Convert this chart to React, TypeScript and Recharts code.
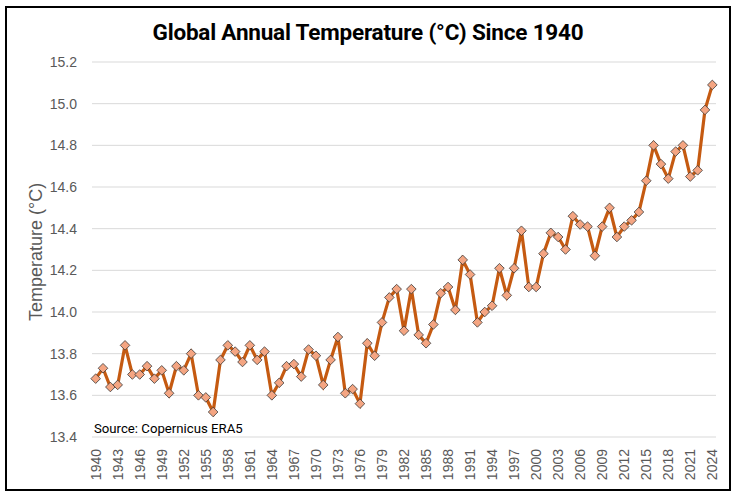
import { CartesianGrid, Label, Line, LineChart, XAxis, YAxis } from "recharts";

const years = [
  1940, 1941, 1942, 1943, 1944, 1945, 1946, 1947, 1948, 1949,
  1950, 1951, 1952, 1953, 1954, 1955, 1956, 1957, 1958, 1959,
  1960, 1961, 1962, 1963, 1964, 1965, 1966, 1967, 1968, 1969,
  1970, 1971, 1972, 1973, 1974, 1975, 1976, 1977, 1978, 1979,
  1980, 1981, 1982, 1983, 1984, 1985, 1986, 1987, 1988, 1989,
  1990, 1991, 1992, 1993, 1994, 1995, 1996, 1997, 1998, 1999,
  2000, 2001, 2002, 2003, 2004, 2005, 2006, 2007, 2008, 2009,
  2010, 2011, 2012, 2013, 2014, 2015, 2016, 2017, 2018, 2019,
  2020, 2021, 2022, 2023, 2024,
];

const temps = [
  13.68, 13.73, 13.64, 13.65, 13.84, 13.70, 13.70, 13.74, 13.68, 13.72,
  13.61, 13.74, 13.72, 13.80, 13.60, 13.59, 13.52, 13.77, 13.84, 13.81,
  13.76, 13.84, 13.77, 13.81, 13.60, 13.66, 13.74, 13.75, 13.69, 13.82,
  13.79, 13.65, 13.77, 13.88, 13.61, 13.63, 13.56, 13.85, 13.79, 13.95,
  14.07, 14.11, 13.91, 14.11, 13.89, 13.85, 13.94, 14.09, 14.12, 14.01,
  14.25, 14.18, 13.95, 14.00, 14.03, 14.21, 14.08, 14.21, 14.39, 14.12,
  14.12, 14.28, 14.38, 14.36, 14.30, 14.46, 14.42, 14.41, 14.27, 14.41,
  14.50, 14.36, 14.41, 14.44, 14.48, 14.63, 14.80, 14.71, 14.64, 14.77,
  14.80, 14.65, 14.68, 14.97, 15.09,
];

const xTicks = [
  1940, 1943, 1946, 1949, 1952, 1955, 1958, 1961, 1964, 1967,
  1970, 1973, 1976, 1979, 1982, 1985, 1988, 1991, 1994, 1997,
  2000, 2003, 2006, 2009, 2012, 2015, 2018, 2021, 2024,
];

const yTicks = [13.4, 13.6, 13.8, 14.0, 14.2, 14.4, 14.6, 14.8, 15.0, 15.2];

const data = years.map((year, i) => ({ year, temp: temps[i] }));

const axisFont = "'Liberation Sans', Arial, sans-serif";
const labelGray = "#595959";

function Diamond(props: any) {
  const { cx, cy } = props;
  if (cx == null || cy == null) return null;
  const r = 4.8;
  return (
    <polygon
      points={`${cx},${cy - r} ${cx + r},${cy} ${cx},${cy + r} ${cx - r},${cy}`}
      fill="#F4A582"
      stroke="#3a3a3a"
      strokeWidth={0.8}
    />
  );
}

function YearTick(props: any) {
  const { x, y, payload } = props;
  return (
    <text
      transform={`translate(${x},${y}) rotate(-90)`}
      textAnchor="end"
      dominantBaseline="central"
      fill={labelGray}
      fontSize={14}
      fontFamily={axisFont}
    >
      {payload.value}
    </text>
  );
}

export default function App() {
  return (
    <div
      style={{
        position: "fixed",
        left: 0,
        top: 0,
        width: 736,
        height: 496,
        background: "#fff",
      }}
    >
      <div style={{ position: "absolute", left: 0, top: 0 }}>
        <LineChart
          width={736}
          height={496}
          data={data}
          margin={{ top: 62, right: 20, bottom: 0, left: 0 }}
        >
          <CartesianGrid vertical={false} stroke="#d9d9d9" />
          <XAxis
            type="number"
            dataKey="year"
            domain={[1939.5, 2024.5]}
            ticks={xTicks}
            interval={0}
            axisLine={false}
            tickLine={false}
            tickSize={0}
            tickMargin={12}
            height={59}
            tick={<YearTick />}
          />
          <YAxis
            type="number"
            domain={[13.4, 15.2]}
            ticks={yTicks}
            interval={0}
            width={92}
            axisLine={false}
            tickLine={false}
            tickSize={0}
            tickMargin={15}
            tickFormatter={(v: number) => v.toFixed(1)}
            tick={{ fill: labelGray, fontSize: 14, fontFamily: axisFont }}
          >
            <Label
              content={() => (
                <text
                  transform="translate(36,252) rotate(-90)"
                  textAnchor="middle"
                  dominantBaseline="central"
                  fill={labelGray}
                  fontSize={18}
                  fontFamily={axisFont}
                >
                  Temperature (°C)
                </text>
              )}
            />
          </YAxis>
          <Line
            type="linear"
            dataKey="temp"
            stroke="#C55A11"
            strokeWidth={3.2}
            dot={<Diamond />}
            activeDot={false}
            isAnimationActive={false}
          />
        </LineChart>
      </div>
      <div
        style={{
          position: "absolute",
          left: 5,
          top: 6,
          width: 722,
          height: 481,
          border: "2px solid #000",
          pointerEvents: "none",
        }}
      />
      <div
        style={{
          position: "absolute",
          left: 0,
          top: 17,
          width: 736,
          textAlign: "center",
          fontFamily: "Roboto, sans-serif",
          fontWeight: 700,
          fontSize: 22.5,
          letterSpacing: -0.2,
          lineHeight: "30px",
          color: "#000",
        }}
      >
        Global Annual Temperature (°C) Since 1940
      </div>
      <div
        style={{
          position: "absolute",
          left: 94,
          top: 420,
          fontFamily: "Roboto, sans-serif",
          fontSize: 13.2,
          lineHeight: "18px",
          color: "#000",
        }}
      >
        Source: Copernicus ERA5
      </div>
    </div>
  );
}
